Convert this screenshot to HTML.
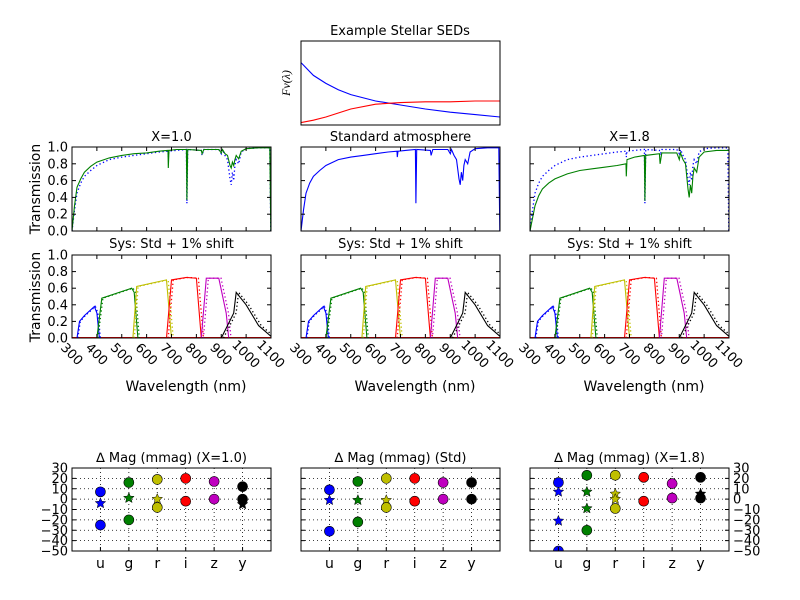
<!DOCTYPE html>
<html><head><meta charset="utf-8"><style>
body{margin:0;background:#fff}
svg{display:block;font-family:"DejaVu Sans","Liberation Sans",sans-serif}
</style></head><body>
<svg id="c" width="800" height="600" viewBox="0 0 800 600"></svg>
<script>
// ---------- data ----------
const sedWave=[300,350,400,450,500,600,700,800,900,1000,1100];
const sedBlue=[0.78,0.62,0.52,0.44,0.38,0.30,0.25,0.20,0.16,0.13,0.10];
const sedRed=[0.03,0.06,0.10,0.15,0.20,0.26,0.28,0.29,0.29,0.30,0.30];
const atmWave=[300,310,320,335,350,375,400,450,500,550,600,650,686,687,690,720,760,762,765,820,823,830,890,900,905,915,925,935,940,945,950,955,960,970,980,1000,1050,1095,1099];
const atmStd=[0.0,0.25,0.45,0.57,0.65,0.72,0.78,0.85,0.88,0.90,0.92,0.94,0.95,0.88,0.95,0.96,0.97,0.33,0.97,0.96,0.90,0.97,0.97,0.92,0.97,0.90,0.85,0.62,0.55,0.70,0.60,0.78,0.85,0.80,0.94,0.98,0.99,0.99,0.0];
const atmX10=[0.0,0.30,0.52,0.62,0.70,0.77,0.82,0.87,0.90,0.92,0.93,0.95,0.96,0.75,0.96,0.97,0.97,0.37,0.97,0.96,0.92,0.97,0.97,0.93,0.97,0.92,0.90,0.78,0.75,0.82,0.78,0.85,0.90,0.86,0.95,0.98,0.99,0.99,0.0];
const atmX18=[0.0,0.15,0.30,0.42,0.50,0.57,0.62,0.68,0.72,0.74,0.76,0.78,0.80,0.65,0.85,0.88,0.90,0.36,0.90,0.92,0.80,0.93,0.93,0.85,0.93,0.85,0.80,0.50,0.40,0.55,0.45,0.65,0.75,0.70,0.88,0.94,0.96,0.96,0.96];
const filtU=[[320,0],[330,0.2],[350,0.27],[390,0.38],[400,0.3],[410,0]];
const filtG=[[400,0],[420,0.48],[540,0.6],[550,0.55],[565,0]];
const filtR=[[545,0],[560,0.62],[680,0.7],[700,0]];
const filtI=[[680,0],[700,0.7],[760,0.73],[800,0.72],[820,0]];
const filtZ=[[820,0],[840,0.72],[890,0.72],[920,0.3],[930,0]];
const filtY=[[900,0],[950,0.3],[960,0.55],[1000,0.4],[1050,0.15],[1100,0.02]];
const bands=["u","g","r","i","z","y"];
const x10Hi=[7,16,19,20,17,12];
const x10Lo=[-25,-20,-8,-2,0,0];
const x10Star=[-4,1,0,null,null,-5];
const stdHi=[9,17,20,20,16,16];
const stdLo=[-31,-22,-8,-2,0,0];
const stdStar=[-1,-1,-1,null,null,null];
const x18Hi=[16,23,23,21,15,21];
const x18Lo=[-50,-30,-9,-2,1,1];
const x18Star=[7,7,5,null,null,5];
const x18Star2=[-21,-9,0,null,null,null];
const transTicks=["0.0","0.2","0.4","0.6","0.8","1.0"];
const waveTicks=[300,400,500,600,700,800,900,1000,1100];
const magTicks=[30,20,10,0,-10,-20,-30,-40,-50];
const bandColors=["#0000ff","#008000","#bfbf00","#ff0000","#bf00bf","#000000"];

// ---------- helpers ----------
const NS="http://www.w3.org/2000/svg";
const svg=document.getElementById('c');
function el(tag,attrs,parent){const e=document.createElementNS(NS,tag);for(const k in attrs)e.setAttribute(k,attrs[k]);(parent||svg).appendChild(e);return e;}
function txt(s,x,y,size,anchor,parent,extra){const t=el('text',Object.assign({x:x,y:y,'font-size':size,'text-anchor':anchor||'middle',fill:'#000'},extra||{}),parent);t.textContent=s;return t;}
function fmt(v){return String(v).replace('-','\u2212');}
function axes(x0,y0,w,h,xmin,xmax,ymin,ymax,name){
  const g=el('g',{});
  
  
  const sx=v=>x0+(v-xmin)/(xmax-xmin)*w, sy=v=>y0+h-(v-ymin)/(ymax-ymin)*h;
  return {g,sx,sy,x0,y0,w,h};
}
function frame(a){const r=el('rect',{x:a.x0,y:a.y0,width:a.w,height:a.h,fill:'none',stroke:'#000','stroke-width':1},a.g);}
function line(a,xs,ys,color,dash,name){
  const pts=xs.map((x,i)=>a.sx(x).toFixed(1)+','+a.sy(ys[i]).toFixed(1)).join(' ');
  const p=el('polyline',{points:pts,fill:'none',stroke:color,'stroke-width':dash?1.3:1.1,'stroke-dasharray':dash?'1.3,2.5':'none'},a.g);
  
  
}
function clip(a,id){const cp=el('clipPath',{id:id});el('rect',{x:a.x0,y:a.y0,width:a.w,height:a.h},cp);const g=el('g',{'clip-path':'url(#'+id+')'},a.g);return Object.assign({},a,{g:g});}
function yTicks(a,vals,labels,side){
  vals.forEach((v,i)=>{const y=a.sy(v);
    el('line',{x1:a.x0,x2:a.x0+4,y1:y,y2:y,stroke:'#000'},a.g);
    el('line',{x1:a.x0+a.w,x2:a.x0+a.w-4,y1:y,y2:y,stroke:'#000'},a.g);
    if(labels){ if(side==='left')txt(labels[i],a.x0-4,y+4.5,13,'end',a.g); else txt(labels[i],a.x0+a.w+4,y+4.5,13,'start',a.g);}
  });
}
function xTicks(a,vals,labels){
  vals.forEach((v,i)=>{const x=a.sx(v);
    el('line',{x1:x,x2:x,y1:a.y0+a.h,y2:a.y0+a.h-4,stroke:'#000'},a.g);
    el('line',{x1:x,x2:x,y1:a.y0,y2:a.y0+4,stroke:'#000'},a.g);
    if(labels){const cy=a.y0+a.h+16;txt(labels[i],x,cy+4.5,13,'middle',a.g,{transform:'rotate(45 '+x+' '+cy+')'});}
  });
}

// ---------- SED panel ----------
(function(){
  const a=axes(301,41,199,84,300,1100,0,1.05,'sed-panel');
  txt('Example Stellar SEDs',400,35,13,'middle',a.g);
  txt('Fν(λ)',290,83,12,'middle',a.g,{transform:'rotate(-90 290 83)','font-family':'Liberation Serif,serif','font-style':'italic'});
  const c=clip(a,'cs');
  line(c,sedWave,sedBlue,'#0000ff',false,'sed-blue-star');
  line(c,sedWave,sedRed,'#ff0000',false,'sed-red-star');
  frame(a);
})();

// ---------- atmosphere row ----------
const colX=[72,301,530];
const titles1=['X=1.0','Standard atmosphere','X=1.8'];
const titles2='Sys: Std + 1% shift';
const tv=[0,0.2,0.4,0.6,0.8,1.0];
colX.forEach((x0,ci)=>{
  const a=axes(x0,147,199,84,300,1100,0,1,'atmosphere-panel-'+ci);
  txt(titles1[ci],x0+99.5,141,13,'middle',a.g);
  const c=clip(a,'ca'+ci);
  if(ci===0){line(c,atmWave,atmStd,'#0000ff',true,'std-atmosphere-dotted');line(c,atmWave,atmX10,'#008000',false,'x10-atmosphere');}
  if(ci===1){line(c,atmWave,atmStd,'#0000ff',false,'std-atmosphere');}
  if(ci===2){line(c,atmWave,atmStd,'#0000ff',true,'std-atmosphere-dotted');line(c,atmWave,atmX18,'#008000',false,'x18-atmosphere');}
  frame(a);
  yTicks(a,tv,ci===0?transTicks:null,'left');
  xTicks(a,waveTicks,null);
  if(ci===0){txt('Transmission',40,189,14,'middle',a.g,{transform:'rotate(-90 40 189)'});}

  const b=axes(x0,255,199,83,300,1100,0,1,'system-panel-'+ci);
  txt(titles2,x0+99.5,248,13,'middle',b.g);
  const cb=clip(b,'cb'+ci);
  const fl=[filtU,filtG,filtR,filtI,filtZ,filtY];
  el('line',{x1:b.x0,x2:b.x0+b.w,y1:b.sy(0)-0.5,y2:b.sy(0)-0.5,stroke:'#ff0000'},cb.g);
  fl.forEach((f,k)=>{
    line(cb,f.map(p=>p[0]*1.01),f.map(p=>p[1]),bandColors[k],true,'filter-'+bands[k]+'-shifted');
    line(cb,f.map(p=>p[0]),f.map(p=>p[1]),bandColors[k],false,'filter-'+bands[k]);
  });
  frame(b);
  yTicks(b,tv,ci===0?transTicks:null,'left');
  xTicks(b,waveTicks,waveTicks.map(String));
  if(ci===0){txt('Transmission',40,297,14,'middle',b.g,{transform:'rotate(-90 40 297)'});}
  txt('Wavelength (nm)',x0+114,391,14,'middle',b.g);
});

// ---------- delta mag row ----------
const magTitles=['∆ Mag (mmag) (X=1.0)','∆ Mag (mmag) (Std)','∆ Mag (mmag) (X=1.8)'];
const magSets=[[x10Hi,x10Lo,[x10Star]],[stdHi,stdLo,[stdStar]],[x18Hi,x18Lo,[x18Star,x18Star2]]];
function star(cx,cy,r){let p=[];for(let i=0;i<10;i++){const rr=i%2?r*0.45:r;const ang=-Math.PI/2+i*Math.PI/5;p.push((cx+rr*Math.cos(ang)).toFixed(1)+','+(cy+rr*Math.sin(ang)).toFixed(1));}return p.join(' ');}
colX.forEach((x0,ci)=>{
  const a=axes(x0,468,199,83,-1,6,-50,30,'delta-mag-panel-'+ci);
  txt(magTitles[ci],x0+99.5,462,13,'middle',a.g);
  const c=clip(a,'cm'+ci);
  magTicks.forEach(v=>{const y=a.sy(v);el('line',{x1:a.x0,x2:a.x0+a.w,y1:y,y2:y,stroke:'#000','stroke-dasharray':'1,3','stroke-width':0.8},c.g);});
  bands.forEach((b,i)=>{const x=a.sx(i);el('line',{x1:x,x2:x,y1:a.y0,y2:a.y0+a.h,stroke:'#000','stroke-dasharray':'1,3','stroke-width':0.8},c.g);
    txt(b,x,a.y0+a.h+17,14,'middle',a.g);});
  const set=magSets[ci];
  bands.forEach((b,i)=>{
    set[2].forEach(sa=>{ if(sa[i]!==null){const s=el('polygon',{points:star(a.sx(i),a.sy(sa[i]),5.5),fill:bandColors[i],stroke:'#000','stroke-width':0.5},c.g);}});
    [set[0][i],set[1][i]].forEach((v,k)=>{const m=el('circle',{cx:a.sx(i),cy:a.sy(v),r:5,fill:bandColors[i],stroke:'#000','stroke-width':0.6},c.g);});
  });
  frame(a);
  yTicks(a,magTicks,ci===1?null:magTicks.map(fmt),ci===2?'right':'left');
  bands.forEach((b,i)=>{const x=a.sx(i);el('line',{x1:x,x2:x,y1:a.y0+a.h,y2:a.y0+a.h-4,stroke:'#000'},a.g);});
});
</script>
</body></html>
